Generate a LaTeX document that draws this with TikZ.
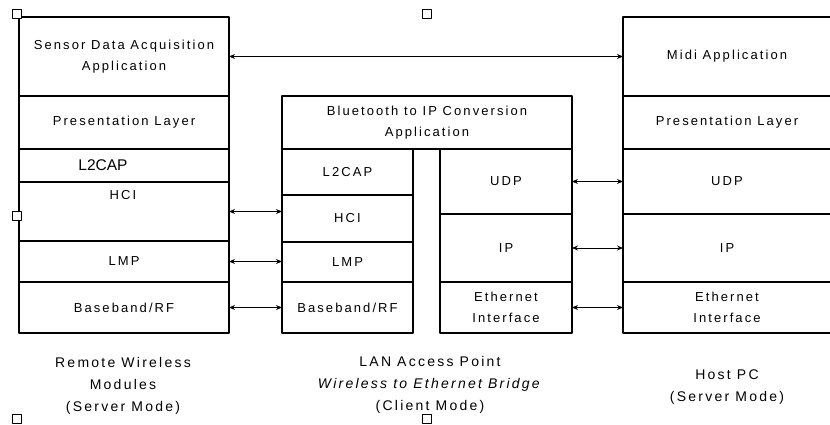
\documentclass[tikz,border=0pt]{standalone}
\usepackage{fontspec}
\setmainfont{Liberation Sans}[LetterSpace=16]
\newfontfamily\plainfont{Liberation Sans}
\usetikzlibrary{arrows.meta,positioning}

\begin{document}
\begin{tikzpicture}[x=1pt, y=-1pt, font=\fontsize{13}{21}\selectfont, line join=round,
    layer/.style={draw, line width=1.3pt, inner sep=0pt, outer sep=0pt, align=center},
    link/.style={{Stealth[length=6pt,width=5pt]}-{Stealth[length=6pt,width=5pt]}, line width=0.9pt},
    handle/.style={draw, fill=white, line width=1pt, minimum size=9pt, inner sep=0pt},
    caption/.style={align=center, font=\fontsize{14}{22}\selectfont}]
    \useasboundingbox (0,0) rectangle (830,425);

    % remote wireless module stack
    \node[layer, minimum width=210pt, minimum height=79pt] (sda) at (124,56.5) {Sensor Data Acquisition\\Application};
    \node[layer, minimum width=210pt, minimum height=53pt] (lpres) at (124,122.5) {Presentation Layer};
    \node[layer, minimum width=210pt, minimum height=33pt] (ll2cap) at (124,165.5) {};
    \node[font=\plainfont\fontsize{15.5}{18}\selectfont] (ll2captext) at (103,165.5) {L2CAP};
    \node[layer, minimum width=210pt, minimum height=59pt] (lhci) at (124,211.5) {};
    \node (lhcitext) at (123,195) {HCI};
    \node[layer, minimum width=210pt, minimum height=41pt] (llmp) at (124,261.5) {LMP};
    \node[layer, minimum width=210pt, minimum height=51pt] (lbb) at (124,307.5) {Baseband/RF};

    % access point stack
    \node[layer, minimum width=290pt, minimum height=53pt] (app) at (427,122.5) {Bluetooth to IP Conversion\\Application};
    \node[layer, minimum width=131pt, minimum height=46pt] (ml2cap) at (347.5,172) {L2CAP};
    \node[layer, minimum width=131pt, minimum height=47pt] (mhci) at (347.5,218.5) {HCI};
    \node[layer, minimum width=131pt, minimum height=40pt] (mlmp) at (347.5,262) {LMP};
    \node[layer, minimum width=131pt, minimum height=51pt] (mbb) at (347.5,307.5) {Baseband/RF};
    \node[layer, minimum width=132pt, minimum height=65pt] (mudp) at (506,181.5) {UDP};
    \node[layer, minimum width=132pt, minimum height=68pt] (mip) at (506,248) {IP};
    \node[layer, minimum width=132pt, minimum height=51pt] (meth) at (506,307.5) {Ethernet\\Interface};

    % host pc stack
    \node[layer, minimum width=208pt, minimum height=79pt] (rmidi) at (727,56.5) {Midi Application};
    \node[layer, minimum width=208pt, minimum height=53pt] (rpres) at (727,122.5) {Presentation Layer};
    \node[layer, minimum width=208pt, minimum height=65pt] (rudp) at (727,181.5) {UDP};
    \node[layer, minimum width=208pt, minimum height=68pt] (rip) at (727,248) {IP};
    \node[layer, minimum width=208pt, minimum height=51pt] (reth) at (727,307.5) {Ethernet\\Interface};

    % links between peers
    \draw[link] (sda.east) -- (rmidi.west);
    \draw[link] (lhci.east) -- (lhci.east -| mhci.west);
    \draw[link] (llmp.east) -- (llmp.east -| mlmp.west);
    \draw[link] (lbb.east) -- (mbb.west);
    \draw[link] (mudp.east) -- (rudp.west);
    \draw[link] (mip.east) -- (rip.west);
    \draw[link] (meth.east) -- (reth.west);

    % captions
    \node[caption] (remote) at (123,386) {Remote Wireless\\Modules\\(Server Mode)};
    \node[caption] (lanap) at (430,385) {LAN Access Point\\\textit{Wireless to Ethernet Bridge}\\(Client Mode)};
    \node[caption] (hostpc) at (727,387.5) {Host PC\\(Server Mode)};

    % selection handles
    \node[handle] (h1) at (17,14) {};
    \node[handle] (h2) at (427,14) {};
    \node[handle] (h3) at (17,216) {};
    \node[handle] (h4) at (17,419) {};
    \node[handle] (h5) at (427,419) {};
\end{tikzpicture}
\end{document}
